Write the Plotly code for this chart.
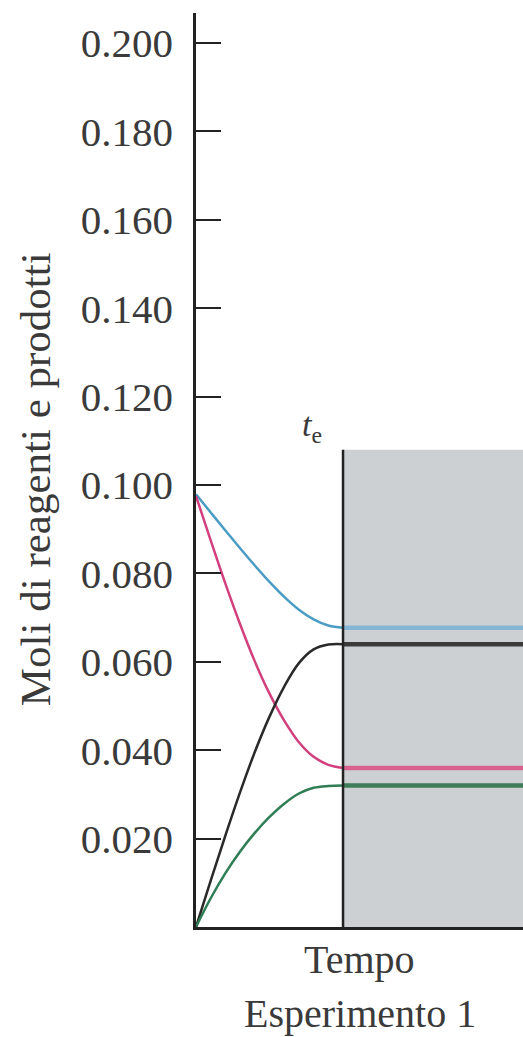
import plotly.graph_objects as go

# Time axis: t = 0 at the start, t = 1 at equilibrium (t_e)
T_E = 1.0
T_END = 2.224

# Reactant / product amounts (mol) up to equilibrium
t_steps = [0.0, 0.1, 0.2, 0.3, 0.4, 0.5, 0.6, 0.7, 0.8, 0.9, 1.0]
v_blue = [0.0979, 0.0938, 0.0897, 0.0857, 0.0818, 0.0781, 0.0747, 0.0718, 0.0696, 0.0682, 0.0677]
v_pink = [0.0975, 0.0875, 0.0777, 0.0685, 0.0601, 0.0528, 0.0467, 0.0418, 0.0385, 0.0367, 0.0360]
v_black = [0.0, 0.0105, 0.0207, 0.0305, 0.0396, 0.0476, 0.0544, 0.0597, 0.0628, 0.0639, 0.0640]
v_green = [0.0, 0.0065, 0.0122, 0.0171, 0.0213, 0.0249, 0.0279, 0.0302, 0.0315, 0.0319, 0.0320]

# Equilibrium amounts (mol)
eq_blue = 0.0677
eq_pink = 0.0360
eq_black = 0.0640
eq_green = 0.0320

tick_vals = [0.020, 0.040, 0.060, 0.080, 0.100, 0.120, 0.140, 0.160, 0.180, 0.200]
tick_text = ["0.020", "0.040", "0.060", "0.080", "0.100", "0.120", "0.140", "0.160", "0.180", "0.200"]

Y_MAX = 0.2068
SHADE_TOP = 0.108

FONT = "Liberation Serif"
TEXT_COLOR = "#3a3a3a"

series = [
    (v_blue, eq_blue, "#4b9cc4", "#86b6d6"),
    (v_pink, eq_pink, "#d2417e", "#d9618f"),
    (v_black, eq_black, "#2a2a2a", "#3a3a3a"),
    (v_green, eq_green, "#2f7d55", "#3f7d5a"),
]

fig = go.Figure()

for v, eq, col, eqcol in series:
    fig.add_trace(go.Scatter(
        x=t_steps, y=v, mode="lines",
        line=dict(color=col, width=2.5, shape="spline", smoothing=1.0),
        hoverinfo="skip", showlegend=False,
    ))
    fig.add_trace(go.Scatter(
        x=[T_E, T_END], y=[eq, eq], mode="lines",
        line=dict(color=eqcol, width=4.5),
        hoverinfo="skip", showlegend=False,
    ))

# Shaded equilibrium region and the t_e marker line
fig.add_shape(type="rect", xref="x", yref="y",
              x0=T_E, x1=T_END, y0=0, y1=SHADE_TOP,
              fillcolor="rgb(205,208,211)", line=dict(width=0), layer="below")
fig.add_shape(type="line", xref="x", yref="y",
              x0=T_E, x1=T_E, y0=0, y1=SHADE_TOP,
              line=dict(color="#222222", width=2.5), layer="above")

fig.add_annotation(x=0.79, y=SHADE_TOP, xref="x", yref="y",
                   text="<i>t</i><sub>e</sub>", showarrow=False,
                   xanchor="center", yanchor="bottom",
                   font=dict(family=FONT, size=34, color=TEXT_COLOR))

# Axis captions
fig.add_annotation(x=0.5, y=-0.036, xref="paper", yref="paper",
                   text="Tempo", showarrow=False,
                   xanchor="center", yanchor="middle",
                   font=dict(family=FONT, size=40, color=TEXT_COLOR))
fig.add_annotation(x=0.5, y=-0.095, xref="paper", yref="paper",
                   text="Esperimento 1", showarrow=False,
                   xanchor="center", yanchor="middle",
                   font=dict(family=FONT, size=40, color=TEXT_COLOR))
fig.add_annotation(x=(35 - 196) / 327, y=0.49, xref="paper", yref="paper",
                   text="Moli di reagenti e prodotti", showarrow=False,
                   textangle=-90, xanchor="center", yanchor="middle",
                   font=dict(family=FONT, size=43, color=TEXT_COLOR))

fig.update_xaxes(range=[0, T_END], showline=True, linewidth=2.5, linecolor="#222222",
                 showticklabels=False, ticks="", showgrid=False, zeroline=False)
fig.update_yaxes(range=[0, Y_MAX], showline=True, linewidth=2.5, linecolor="#222222",
                 tickvals=tick_vals, ticktext=tick_text,
                 ticks="inside", ticklen=25, tickwidth=2, tickcolor="#222222",
                 ticklabelstandoff=12,
                 tickfont=dict(family=FONT, size=41, color=TEXT_COLOR),
                 showgrid=False, zeroline=False)

fig.update_layout(width=523, height=1037,
                  margin=dict(l=196, r=0, t=13, b=110),
                  plot_bgcolor="white", paper_bgcolor="white")

fig.write_html("out.html")
